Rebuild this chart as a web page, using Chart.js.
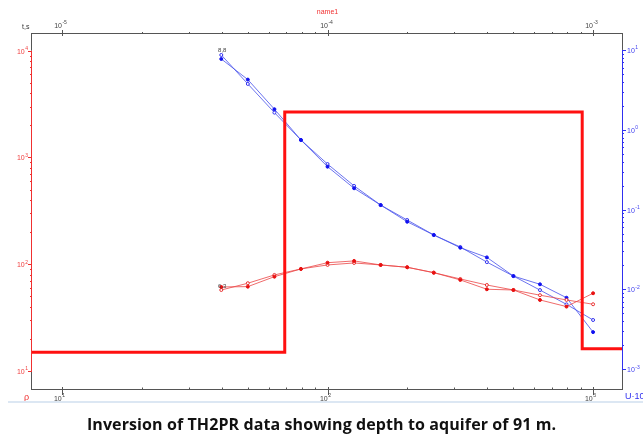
<!DOCTYPE html>
<html lang="en">
<head>
<meta charset="UTF-8" />
<title>Inversion of TH2PR</title>
<script src="https://cdn.jsdelivr.net/npm/chart.js"></script>
<style>
  html, body { margin: 0; padding: 0; background: #fff; }
  #wrap { position: relative; width: 643px; height: 437px; overflow: hidden; }
  #chart { position: absolute; left: 0; top: 0; }
  #rule { position: absolute; left: 8px; right: 0; top: 401px; height: 2px; background: #dce7f3; }
  #caption { position: absolute; left: 0; width: 643px; top: 413px; line-height: 22px; text-align: center;
             font: bold 16px "Open Sans", sans-serif; letter-spacing: 0.1px; color: #111; }
</style>
</head>
<body>
<div id="wrap">
  <canvas id="chart" width="643" height="437"></canvas>
  <div id="rule"></div>
  <div id="caption">Inversion of TH2PR data showing depth to aquifer of 91 m.</div>
</div>

<script>
// electrode spacing (bottom axis)
const spacing = [39.8, 50.1, 63.1, 79.4, 100, 125.9, 158.5, 199.5, 251.2, 316.2, 398.1, 501.2, 631.0, 794.3, 1000];

// apparent resistivity, left axis (red)
const rhoObs  = [61.3, 61.7, 76.5, 90.4, 103.4, 107.4, 98.5, 93.7, 83.4, 71.3, 58.3, 57.4, 46.3, 40.1, 53.5];
const rhoCalc = [57.4, 66.4, 79.4, 90.4, 98.5, 102.8, 98.5, 93.7, 83.4, 72.8, 63.9, 57.4, 51.3, 46.3, 42.2];

// U, right axis (blue)
const uObs  = [7.71, 4.25, 1.81, 0.745, 0.345, 0.185, 0.114, 0.0705, 0.0481, 0.0333, 0.0252, 0.0147, 0.0116, 0.00787, 0.00292];
const uCalc = [8.65, 3.75, 1.64, 0.745, 0.372, 0.198, 0.114, 0.0741, 0.0481, 0.0340, 0.0220, 0.0147, 0.00982, 0.0065, 0.00414];

// layered model (thick red step line)
const modelDepth = [7.71, 69, 69, 910, 910, 1285];
const modelRho   = [15, 15, 2667, 2667, 16.2, 16.2];

// axis limits
const xRange  = [7.71, 1285];
const x2Range = [7.71e-6, 1.285e-3];
const yRange  = [6.785, 14650];
const y1Range = [5.66e-4, 16.3];

const pts = (xs, ys) => xs.map((x, i) => ({ x: x, y: ys[i] }));

function hline(ctx, x1, x2, y, color, w) {
  ctx.strokeStyle = color; ctx.lineWidth = w || 1;
  ctx.beginPath(); ctx.moveTo(x1, y); ctx.lineTo(x2, y); ctx.stroke();
}
function vline(ctx, x, y1, y2, color, w) {
  ctx.strokeStyle = color; ctx.lineWidth = w || 1;
  ctx.beginPath(); ctx.moveTo(x, y1); ctx.lineTo(x, y2); ctx.stroke();
}

// "10" with a small raised exponent
function pow10(ctx, x, y, e, color, align) {
  const exp = String(e);
  ctx.font = '7px "Liberation Sans", Arial, sans-serif';
  const w1 = ctx.measureText('10').width;
  ctx.font = '5px "Liberation Sans", Arial, sans-serif';
  const w2 = ctx.measureText(exp).width;
  const total = w1 + w2 + 0.5;
  let sx = x;
  if (align === 'right') sx = x - total;
  if (align === 'center') sx = x - total / 2;
  ctx.fillStyle = color;
  ctx.textAlign = 'left';
  ctx.textBaseline = 'middle';
  ctx.font = '7px "Liberation Sans", Arial, sans-serif';
  ctx.fillText('10', sx, y + 1);
  ctx.font = '5px "Liberation Sans", Arial, sans-serif';
  ctx.fillText(exp, sx + w1 + 0.5, y - 2);
}

const axesPlugin = {
  id: 'axes',
  afterDatasetsDraw(chart) {
    const ctx = chart.ctx;
    const { left, right, top, bottom } = chart.chartArea;
    const sx = chart.scales.x, sx2 = chart.scales.x2, sy = chart.scales.y, sy1 = chart.scales.y1;
    const dark = '#555';
    ctx.save();

    // top & bottom frame
    hline(ctx, left, right, top + 0.5, dark);
    hline(ctx, left, right, bottom + 0.5, dark);

    // left axis (red) between 10^1 and 10^4
    const yTop = sy.getPixelForValue(1e4), yBot = sy.getPixelForValue(10);
    vline(ctx, left - 0.5, top, yTop, dark);
    vline(ctx, left - 0.5, yTop, yBot, '#f03030');
    vline(ctx, left - 0.5, yBot, bottom + 1, dark);
    for (let e = 1; e <= 4; e++) {
      const p = sy.getPixelForValue(Math.pow(10, e));
      hline(ctx, left - 4, left, Math.round(p) + 0.5, '#f03030');
      pow10(ctx, left - 4, p, e, '#f04040', 'right');
      if (e < 4) {
        for (let m = 2; m <= 9; m++) {
          const q = Math.round(sy.getPixelForValue(m * Math.pow(10, e))) + 0.5;
          hline(ctx, left - 2, left, q, '#f03030');
        }
      }
    }

    // right axis (blue) between 10^-3 and 10^1
    const rTop = sy1.getPixelForValue(10), rBot = sy1.getPixelForValue(1e-3);
    vline(ctx, right + 0.5, top, rTop, dark);
    vline(ctx, right + 0.5, rTop, rBot, '#3030f0');
    vline(ctx, right + 0.5, rBot, bottom + 1, dark);
    for (let e = -3; e <= 1; e++) {
      const p = sy1.getPixelForValue(Math.pow(10, e));
      hline(ctx, right, right + 4, Math.round(p) + 0.5, '#3030f0');
      pow10(ctx, right + 5, p, e, '#4040f0', 'left');
      if (e < 1) {
        for (let m = 2; m <= 9; m++) {
          const q = Math.round(sy1.getPixelForValue(m * Math.pow(10, e))) + 0.5;
          hline(ctx, right, right + 2, q, '#3030f0');
        }
      }
    }

    // bottom axis ticks
    for (let e = 1; e <= 3; e++) {
      const p = Math.round(sx.getPixelForValue(Math.pow(10, e))) + 0.5;
      vline(ctx, p, bottom - 2, bottom + 6, dark);
      pow10(ctx, p - 3, bottom + 9, e, '#444', 'center');
      if (e < 3) {
        for (let m = 2; m <= 9; m++) {
          const q = Math.round(sx.getPixelForValue(m * Math.pow(10, e))) + 0.5;
          vline(ctx, q, bottom - 1.5, bottom, dark);
        }
      }
    }

    // top axis ticks
    for (let e = -5; e <= -3; e++) {
      const p = Math.round(sx2.getPixelForValue(Math.pow(10, e))) + 0.5;
      vline(ctx, p, top - 3, top + 3, dark);
      pow10(ctx, p - 2, top - 8, e, '#444', 'center');
      if (e < -3) {
        for (let m = 2; m <= 9; m++) {
          const q = Math.round(sx2.getPixelForValue(m * Math.pow(10, e))) + 0.5;
          vline(ctx, q, top - 1, top + 0.5, dark);
        }
      }
    }

    // axis titles
    ctx.textBaseline = 'middle';
    ctx.font = '7px "Liberation Sans", Arial, sans-serif';
    ctx.fillStyle = '#f03030';
    ctx.textAlign = 'center';
    ctx.fillText('name1', (sx2.getPixelForValue(1e-4)), 12);
    ctx.fillStyle = '#333';
    ctx.textAlign = 'left';
    ctx.fillText('t,s', 22, 27);
    ctx.font = '9px "Liberation Sans", Arial, sans-serif';
    ctx.fillStyle = '#f03030';
    ctx.fillText('ρ', 24, 398);
    ctx.fillStyle = '#3030f0';
    ctx.fillText('U·10', 625, 397);

    // curve labels
    ctx.font = '6px "Liberation Sans", Arial, sans-serif';
    ctx.fillStyle = '#444';
    ctx.textAlign = 'center';
    ctx.fillText('8,8', sx.getPixelForValue(spacing[0]) + 1, sy1.getPixelForValue(uCalc[0]) - 5);
    ctx.fillText('6,3', sx.getPixelForValue(spacing[0]) + 1, sy.getPixelForValue(rhoObs[0]) - 1);

    ctx.restore();
  }
};

const common = { ticks: { display: false }, grid: { display: false }, border: { display: false } };

new Chart(document.getElementById('chart').getContext('2d'), {
  type: 'scatter',
  data: {
    datasets: [
      { data: pts(modelDepth, modelRho), showLine: true, borderColor: '#ff1010', borderWidth: 3,
        pointRadius: 0, xAxisID: 'x', yAxisID: 'y' },
      { data: pts(spacing, rhoObs), showLine: true, borderColor: 'rgba(235,70,70,0.8)', borderWidth: 1,
        pointRadius: 1.5, pointBackgroundColor: '#e81010', pointBorderColor: '#e81010', xAxisID: 'x', yAxisID: 'y' },
      { data: pts(spacing, rhoCalc), showLine: true, borderColor: 'rgba(235,70,70,0.8)', borderWidth: 1,
        pointRadius: 1.5, pointBackgroundColor: '#fff', pointBorderColor: '#e83030', xAxisID: 'x', yAxisID: 'y' },
      { data: pts(spacing, uObs), showLine: true, borderColor: 'rgba(70,80,235,0.8)', borderWidth: 1,
        pointRadius: 1.5, pointBackgroundColor: '#1010f0', pointBorderColor: '#1010f0', xAxisID: 'x', yAxisID: 'y1' },
      { data: pts(spacing, uCalc), showLine: true, borderColor: 'rgba(70,80,235,0.8)', borderWidth: 1,
        pointRadius: 1.5, pointBackgroundColor: '#fff', pointBorderColor: '#3030f0', xAxisID: 'x', yAxisID: 'y1' }
    ]
  },
  options: {
    responsive: false,
    animation: false,
    layout: { padding: 0 },
    plugins: { legend: { display: false }, tooltip: { enabled: false } },
    elements: { line: { tension: 0 } },
    scales: {
      x:  { ...common, type: 'logarithmic', position: 'bottom', min: xRange[0], max: xRange[1],
            afterFit: s => { s.height = 48; } },
      x2: { ...common, type: 'logarithmic', position: 'top', min: x2Range[0], max: x2Range[1],
            afterFit: s => { s.height = 33; } },
      y:  { ...common, type: 'logarithmic', position: 'left', min: yRange[0], max: yRange[1],
            afterFit: s => { s.width = 32; } },
      y1: { ...common, type: 'logarithmic', position: 'right', min: y1Range[0], max: y1Range[1],
            afterFit: s => { s.width = 21; } }
    }
  },
  plugins: [axesPlugin]
});
</script>
</body>
</html>
